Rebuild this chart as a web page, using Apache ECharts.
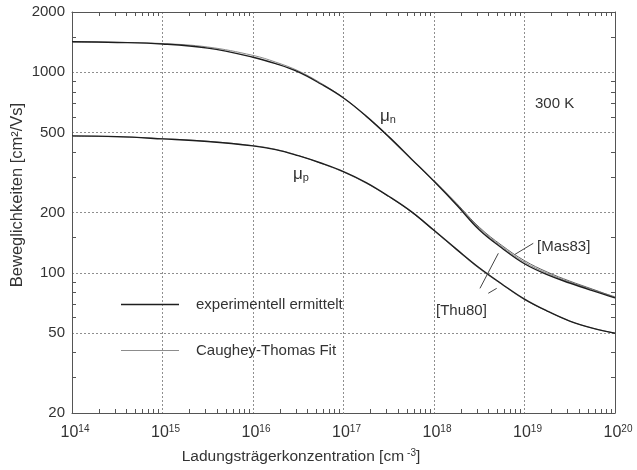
<!DOCTYPE html>
<html>
<head>
<meta charset="utf-8">
<script src="https://cdn.jsdelivr.net/npm/echarts@6/dist/echarts.min.js"></script>
<style>
  html, body { margin: 0; padding: 0; background: #fff; }
  #chart { width: 637px; height: 470px; }
</style>
</head>
<body>
<div id="chart"></div>
<script>
// Carrier concentration grid [cm^-3]
const conc = [1e14, 3.16e14, 1e15, 3.16e15, 1e16, 1.78e16, 3.16e16, 5.62e16, 1e17, 1.78e17,
              3.16e17, 5.62e17, 1e18, 1.78e18, 3.16e18, 5.62e18, 1e19, 1.78e19, 3.16e19, 5.62e19, 1e20];

// Electron mobility, measured and Caughey-Thomas fit [cm²/Vs]
const muN_exp = [1420, 1410, 1385, 1320, 1190, 1105, 1005, 875, 745, 605, 478, 370, 286, 218, 164, 133, 111, 98, 89, 81.5, 75];
const muN_fit = [1418, 1411, 1392, 1338, 1215, 1125, 1018, 884, 747, 603, 474, 368, 287, 220, 167, 135, 113, 99.5, 90, 82.5, 76];
// Electron mobility after [Mas83], high-doping range
const concMas = [1e18, 1.78e18, 3.16e18, 5.62e18, 1e19, 1.78e19, 3.16e19, 5.62e19, 1e20];
const muN_mas = [289, 222, 169, 137, 115, 101, 91, 83, 75.5];

// Hole mobility, measured and Caughey-Thomas fit [cm²/Vs]
const muP_exp = [482, 478, 466, 452, 430, 412, 384, 353, 320, 282, 241, 202, 163, 131, 106, 88, 74, 64.5, 57.5, 53, 50];
const muP_fit = [480, 477, 467, 453, 431, 413, 385, 352, 318, 280, 240, 201, 162, 130, 105, 87.5, 73.5, 64.5, 57.5, 53, 50];

// Axis tick values
const xMajor = [1e14, 1e15, 1e16, 1e17, 1e18, 1e19, 1e20];
const yMajor = [20, 50, 100, 200, 500, 1000, 2000];
const yMinor = [30, 40, 60, 70, 80, 90, 150, 300, 400, 600, 700, 800, 900, 1500];

const xMinor = [];
for (let e = 14; e < 20; e++) {
  for (let m = 2; m <= 9; m++) xMinor.push(m * Math.pow(10, e));
}

const pair = (xs, ys) => xs.map((x, i) => [x, ys[i]]);

const FONT = '"Liberation Sans", Arial, Helvetica, sans-serif';
const AX = '#555';
const TXT = '#333';
const GRID_LINE = { show: true, lineStyle: { color: '#8f8f8f', type: [2, 2], width: 1 } };

const chart = echarts.init(document.getElementById('chart'), null, { renderer: 'canvas' });

function xAxisDef(pos, ticks, len, withLine, main) {
  return {
    type: 'log', logBase: 10, min: 1e14, max: 1e20, position: pos,
    gridIndex: 0,
    axisLine: { show: withLine, onZero: false, lineStyle: { color: AX, width: 1 } },
    axisTick: { show: true, inside: true, length: len, customValues: ticks, lineStyle: { color: AX } },
    axisLabel: main ? {
      show: true, customValues: xMajor, margin: 11, fontFamily: FONT,
      formatter: v => '{b|10}{s|' + Math.round(Math.log10(v)) + '}',
      rich: {
        b: { fontSize: 16, color: TXT, fontFamily: FONT, padding: [0, 0, 0, 6] },
        s: { fontSize: 10, color: TXT, fontFamily: FONT, verticalAlign: 'top', padding: [0, 0, 8, 0] }
      }
    } : { show: false },
    splitLine: main ? GRID_LINE : { show: false }
  };
}

function yAxisDef(pos, ticks, len, withLine, main) {
  return {
    type: 'log', logBase: 10, min: 20, max: 2000, position: pos,
    gridIndex: 0,
    axisLine: { show: withLine, onZero: false, lineStyle: { color: AX, width: 1 } },
    axisTick: { show: true, inside: true, length: len, customValues: ticks, lineStyle: { color: AX } },
    axisLabel: main ? {
      show: true, customValues: yMajor, margin: 7, fontSize: 15, color: TXT, fontFamily: FONT,
      formatter: v => String(Math.round(v))
    } : { show: false },
    splitLine: main ? GRID_LINE : { show: false }
  };
}

function lineSeries(name, data, color, width, z) {
  return {
    name: name, type: 'line', data: data, xAxisIndex: 0, yAxisIndex: 0,
    symbol: 'none', smooth: 0.4, z: z,
    lineStyle: { color: color, width: width },
    itemStyle: { color: color },
    emphasis: { disabled: true }, silent: true
  };
}

// Leader lines for the literature references, given in data coordinates
const leaderStyle = { color: '#444', width: 1, type: 'solid' };
const leaders = {
  name: 'leaders', type: 'line', data: [], xAxisIndex: 0, yAxisIndex: 0, silent: true,
  markLine: {
    symbol: 'none', silent: true, label: { show: false }, lineStyle: leaderStyle, animation: false,
    data: [
      [{ coord: [1.25e19, 140.4] }, { coord: [7.85e18, 123.7] }],
      [{ coord: [5.14e18, 125.2] }, { coord: [3.22e18, 83.7] }],
      [{ coord: [3.98e18, 79.1] }, { coord: [4.93e18, 83.7] }]
    ]
  }
};

const EXP = 'experimentell ermittelt';
const FIT = 'Caughey-Thomas Fit';
const muRich = {
  m: { fontSize: 17, fill: TXT, fontFamily: FONT },
  s: { fontSize: 11, fill: TXT, fontFamily: FONT, padding: [6, 0, 0, 0] }
};

const option = {
  animation: false,
  backgroundColor: '#fff',
  grid: { left: 72, right: 22, top: 12, bottom: 57, containLabel: false },
  xAxis: [
    xAxisDef('bottom', xMajor, 0, true, true),
    xAxisDef('bottom', xMinor, 4, false, false),
    xAxisDef('top', xMajor, 0, true, false),
    xAxisDef('top', xMinor, 4, false, false)
  ],
  yAxis: [
    yAxisDef('left', yMajor, 0, true, true),
    yAxisDef('left', yMinor, 4, false, false),
    yAxisDef('right', yMajor, 0, true, false),
    yAxisDef('right', yMinor, 4, false, false)
  ],
  legend: {
    show: true, orient: 'vertical', left: 121, top: 297, padding: 0,
    itemWidth: 58, itemHeight: 14, itemGap: 31,
    data: [
      { name: EXP, icon: 'path://M0,6.2 L58,6.2 L58,7.8 L0,7.8 Z' },
      { name: FIT, icon: 'path://M0,6.5 L58,6.5 L58,7.5 L0,7.5 Z' }
    ],
    textStyle: { fontSize: 15, color: TXT, fontFamily: FONT, padding: [0, 0, 0, 12] },
    selectedMode: false
  },
  series: [
    lineSeries(FIT, pair(conc, muN_fit), '#8c8c8c', 1, 2),
    lineSeries(EXP, pair(conc, muN_exp), '#1e1e1e', 1.4, 3),
    lineSeries('Mas83', pair(concMas, muN_mas), '#666', 1, 2),
    lineSeries(FIT, pair(conc, muP_fit), '#8c8c8c', 1, 2),
    lineSeries(EXP, pair(conc, muP_exp), '#1e1e1e', 1.4, 3),
    leaders
  ],
  graphic: [
    // Axis titles
    { type: 'text', x: 17, y: 195, rotation: Math.PI / 2,
      style: { text: 'Beweglichkeiten [cm²/Vs]', fontSize: 16.5, fill: TXT, fontFamily: FONT, align: 'center', verticalAlign: 'middle' } },
    { type: 'text', x: 301, y: 457,
      style: {
        text: 'Ladungsträgerkonzentration [cm{s|-3}]', fontSize: 15.5, fill: TXT, fontFamily: FONT,
        align: 'center', verticalAlign: 'middle',
        rich: { s: { fontSize: 10, fill: TXT, fontFamily: FONT, padding: [0, 0, 8, 3] } }
      } },
    // Curve and reference annotations
    { type: 'text', left: 380, top: 108, style: { rich: muRich, text: '{m|μ}{s|n}' } },
    { type: 'text', left: 293, top: 166, style: { rich: muRich, text: '{m|μ}{s|p}' } },
    { type: 'text', left: 535, top: 96, style: { text: '300 K', fontSize: 15, fill: TXT, fontFamily: FONT } },
    { type: 'text', left: 537, top: 239, style: { text: '[Mas83]', fontSize: 15, fill: TXT, fontFamily: FONT } },
    { type: 'text', left: 436, top: 303, style: { text: '[Thu80]', fontSize: 15, fill: TXT, fontFamily: FONT } }
  ]
};

chart.setOption(option);
</script>
</body>
</html>
